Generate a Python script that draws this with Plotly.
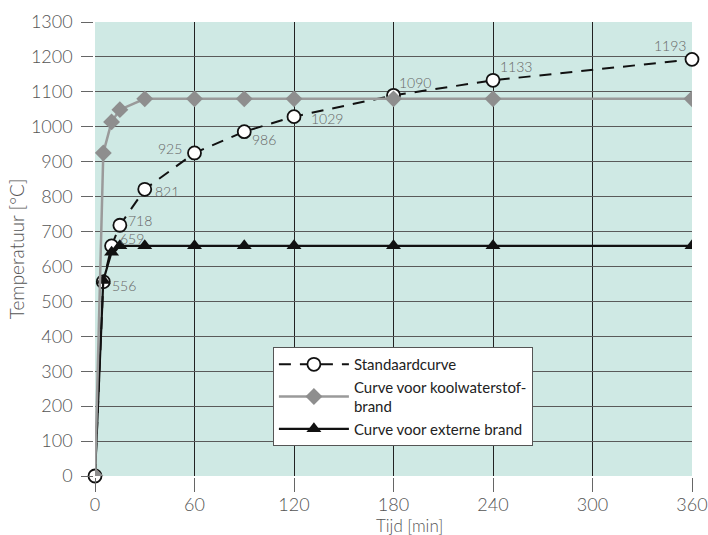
import plotly.graph_objects as go

# ---- data ----
t_std = [0, 5, 10, 15, 30, 60, 90, 120, 180, 240, 360]
temp_std = [0, 556, 659, 718, 821, 925, 986, 1029, 1090, 1133, 1193]

t_hc = [0, 5, 10, 15, 30, 60, 90, 120, 180, 240, 360]
temp_hc = [0, 925, 1014, 1049, 1080, 1080, 1080, 1080, 1080, 1080, 1080]

t_ext = [0, 5, 10, 15, 30, 60, 90, 120, 180, 240, 360]
temp_ext = [0, 560, 641, 659, 659, 659, 659, 659, 659, 659, 659]

x_ticks = [0, 60, 120, 180, 240, 300, 360]
y_ticks = list(range(0, 1301, 100))

names = ["Standaardcurve", "Curve voor koolwaterstof-<br>brand", "Curve voor externe brand"]
x_title = "Tijd [min]"
y_title = "Temperatuur [°C]"

# label offsets (pixels) for the standard-curve value labels (style only)
label_shift = [None, (21, -4), (20, 7), (20, 5), (22, -2), (-25, 4), (20, -8),
               (33, -2), (21, 13), (23, 14), (-22, 14)]

FONT = "Lato"

fig = go.Figure()

fig.add_trace(go.Scatter(
    x=t_std, y=temp_std, name=names[0], mode="lines+markers",
    line=dict(color="#111111", width=2, dash="12px,9px"),
    marker=dict(symbol="circle", size=13, color="white",
                line=dict(color="#111111", width=1.8)),
    cliponaxis=False, zorder=1))

fig.add_trace(go.Scatter(
    x=t_hc, y=temp_hc, name=names[1], mode="lines+markers",
    line=dict(color="#9a9a9a", width=2.5),
    marker=dict(symbol="diamond", size=13, color="#8e8e8e"),
    cliponaxis=False, zorder=3))

fig.add_trace(go.Scatter(
    x=t_ext, y=temp_ext, name=names[2], mode="lines+markers",
    line=dict(color="#111111", width=2.2),
    marker=dict(symbol="triangle-up", size=13, color="#111111"),
    cliponaxis=False, zorder=2))

for i, (tx, ty) in enumerate(zip(t_std, temp_std)):
    if label_shift[i] is None:
        continue
    dx, dy = label_shift[i]
    fig.add_annotation(x=tx, y=ty, text=str(ty), showarrow=False,
                       xshift=dx, yshift=dy, xanchor="center", yanchor="middle",
                       font=dict(family=FONT, size=14, weight=300, color="#666666"))

fig.add_annotation(x=0.526, y=-0.108, xref="paper", yref="paper",
                   xanchor="center", yanchor="middle",
                   text=x_title, showarrow=False,
                   font=dict(family=FONT, size=17, weight=300, color="#555555"))
fig.add_annotation(x=-0.132, y=0.5, xref="paper", yref="paper",
                   xanchor="center", yanchor="middle",
                   text=y_title, showarrow=False, textangle=-90,
                   font=dict(family=FONT, size=19, weight=300, color="#555555"))

fig.update_layout(
    width=708, height=535,
    margin=dict(l=95, r=16, t=22, b=59),
    paper_bgcolor="white",
    plot_bgcolor="#cfe9e4",
    font=dict(family=FONT, color="#555555"),
    showlegend=True,
    legend=dict(x=0.298, y=0.284, xanchor="left", yanchor="top",
                bgcolor="white", bordercolor="#555555", borderwidth=1,
                font=dict(family=FONT, size=15, color="#222222"),
                itemwidth=70, tracegroupgap=2),
)

fig.update_xaxes(
    range=[0, 360], tickvals=x_ticks, ticktext=[str(v) for v in x_ticks],
    showgrid=True, gridcolor="#222222", gridwidth=1,
    showline=True, linecolor="#222222", linewidth=1.5, mirror=True,
    ticks="outside", ticklen=14, tickcolor="#666666", tickwidth=1.2,
    ticklabelstandoff=-2,
    tickfont=dict(family=FONT, size=18, weight=300, color="#555555"),
    automargin=False, zeroline=False)

fig.update_yaxes(
    range=[0, 1300], tickvals=y_ticks, ticktext=[str(v) for v in y_ticks],
    showgrid=True, gridcolor="#5a5a5a", gridwidth=1.2,
    showline=True, linecolor="#222222", linewidth=1.5, mirror=True,
    ticks="outside", ticklen=12, tickcolor="#666666", tickwidth=1.2,
    ticklabelstandoff=5,
    tickfont=dict(family=FONT, size=18, weight=300, color="#555555"),
    automargin=False, zeroline=False)

# remove the browser's default 8px body margin so the 708x535 figure fills the window
fig.write_html("out.html",
               config={"displayModeBar": False},
               post_script="document.body.style.margin='0';document.body.style.overflow='hidden';")
